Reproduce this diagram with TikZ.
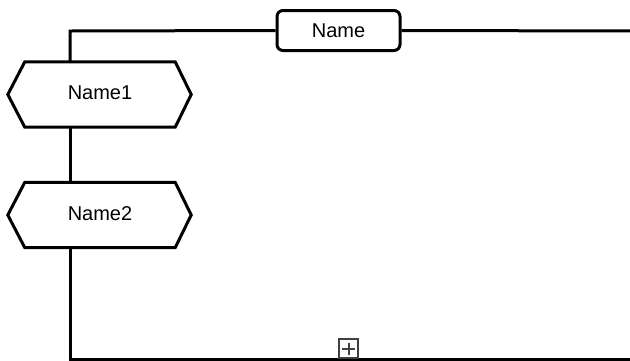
\documentclass[tikz,border=0pt]{standalone}
\usepackage{fontspec}
\setmainfont{Liberation Sans}
\usetikzlibrary{calc}
\tikzset{
  conn/.style={line width=3pt, black},
  namebox/.style={draw, line width=3pt, rounded corners=6pt, fill=white,
    minimum width=123pt, minimum height=40pt, inner sep=0pt,
    font=\fontsize{20}{24}\selectfont},
  hexbox/.style={draw=none, minimum width=150pt, minimum height=65pt, inner sep=0pt,
    font=\fontsize{20}{24}\selectfont},
  hexline/.style={line width=3pt, black, line join=miter, fill=white},
  plusbox/.style={draw=black!75, line width=2pt, fill=white, minimum size=19pt, inner sep=0pt},
  plusline/.style={line width=2pt, black!75}
}
\begin{document}
\begin{tikzpicture}[x=1pt,y=-1pt]
\useasboundingbox (0,0) rectangle (630,360);
\clip (0,0) rectangle (630,360);
\coordinate (tl) at (70,31);
\coordinate (tr) at (640,31);
\coordinate (bl) at (70,359.5);
\coordinate (br) at (640,359.5);
\node[namebox] (name) at (338.5,30.5) {Name};
\node[hexbox] (n1) at (100,94.5) {};
\node[hexbox] (n2) at (100,215) {};
\draw[conn] (name.west) -- (tl) -- (tl |- n1.north);
\draw[conn] (name.east) -- (tr);
\draw[conn] (tl |- n1.south) -- (tl |- n2.north);
\draw[conn] (tl |- n2.south) -- (bl) -- (br);
\foreach \n in {n1,n2}{
  \draw[hexline] (\n.north west) -- (\n.north east) -- ($(\n.east)+(16,0)$) -- (\n.south east) -- (\n.south west) -- ($(\n.west)-(17,0)$) -- cycle;
}
\node[font=\fontsize{20}{24}\selectfont] (t1) at ($(n1)+(0,-1.5)$) {Name1};
\node[font=\fontsize{20}{24}\selectfont] (t2) at ($(n2)+(0,-1.5)$) {Name2};
\node[plusbox] (plus) at (348.5,348.5) {};
\draw[plusline] ($(plus.center)-(6.5,0)$) -- ($(plus.center)+(6.5,0)$);
\draw[plusline] ($(plus.center)-(0,6)$) -- ($(plus.center)+(0,6)$);
\end{tikzpicture}
\end{document}
